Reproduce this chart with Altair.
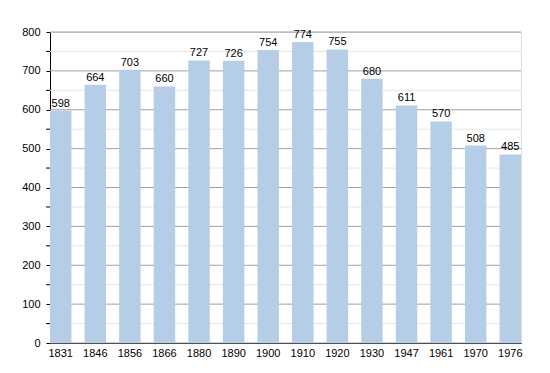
import altair as alt
import pandas as pd

years = ["1831", "1846", "1856", "1866", "1880", "1890", "1900", "1910", "1920", "1930", "1947", "1961", "1970", "1976"]
population = [598, 664, 703, 660, 727, 726, 754, 774, 755, 680, 611, 570, 508, 485]
major_ticks = [0, 100, 200, 300, 400, 500, 600, 700, 800]
minor_ticks = [50, 150, 250, 350, 450, 550, 650, 750]

df = pd.DataFrame({"year": years, "pop": population})
major_df = pd.DataFrame({"v": major_ticks})
minor_df = pd.DataFrame({"v": minor_ticks})

FONT = "Liberation Sans"
yscale = alt.Scale(domain=[0, 800], nice=False)
yaxis = alt.Axis(title=None, values=major_ticks, grid=False, domainColor="#000000",
                 tickColor="#000000", tickSize=4, labelFont=FONT, labelFontSize=11,
                 labelColor="#000000", labelPadding=6, labelOverlap=False)
xaxis = alt.Axis(title=None, labelAngle=0, ticks=False, domainColor="#000000",
                 labelFont=FONT, labelFontSize=11, labelColor="#000000", labelPadding=4,
                 labelOverlap=False)

minor_grid = alt.Chart(minor_df).mark_rule(color="#e6e6e6", strokeWidth=1).encode(
    y=alt.Y("v:Q", scale=yscale, axis=yaxis),
)
major_grid = alt.Chart(major_df).mark_rule(color="#a0a0a0", strokeWidth=1).encode(
    y=alt.Y("v:Q", scale=yscale, axis=yaxis),
)
minor_tick = alt.Chart(minor_df).mark_rule(color="#000000", strokeWidth=1).encode(
    y=alt.Y("v:Q", scale=yscale, axis=yaxis),
    x=alt.value(-4),
    x2=alt.value(0),
)

bars = alt.Chart(df).mark_bar(color="#b5cde6").encode(
    x=alt.X("year:N", sort=None,
            scale=alt.Scale(paddingInner=0.38, paddingOuter=0, align=0),
            axis=xaxis),
    y=alt.Y("pop:Q", scale=yscale, axis=yaxis),
)
labels = alt.Chart(df).mark_text(dy=-7, font=FONT, fontSize=11, color="#000000").encode(
    x=alt.X("year:N", sort=None, axis=xaxis),
    y=alt.Y("pop:Q", scale=yscale, axis=yaxis),
    text="pop:Q",
)

chart = alt.layer(minor_grid, major_grid, bars, minor_tick, labels).properties(
    width=471, height=311,
    autosize=alt.AutoSizeParams(type="none"),
    padding={"left": 42, "top": 24, "right": 12, "bottom": 14},
).configure_view(stroke=None).configure(background="#ffffff")

chart.save("out.html", embed_options={"renderer": "svg", "actions": False})
